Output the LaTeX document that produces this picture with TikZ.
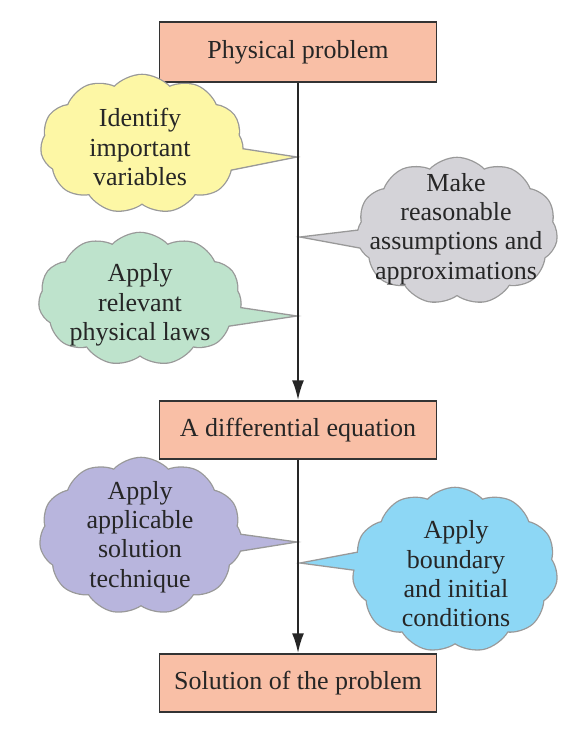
\documentclass[tikz,border=0pt]{standalone}
\usepackage{fontspec}
\setmainfont{Liberation Serif}
\usepackage{xcolor}
\usetikzlibrary{shapes.symbols,arrows.meta}
\definecolor{boxfill}{HTML}{F9BFA6}
\definecolor{yellowc}{HTML}{FDF7A5}
\definecolor{grayc}{HTML}{D4D3D8}
\definecolor{greenc}{HTML}{BEE3CC}
\definecolor{purplec}{HTML}{B8B5DD}
\definecolor{bluec}{HTML}{8DD7F5}
\tikzset{
  stepbox/.style={draw=black!80, fill=boxfill, line width=1.3pt, minimum width=277pt, minimum height=58pt},
  puff/.style={cloud, cloud puffs=11, cloud puff arc=95, draw=black!40, line width=2.6pt, inner sep=0pt},
  pufftop/.style={cloud, cloud puffs=11, cloud puff arc=95, draw=none, inner sep=0pt},
  wedge/.style={draw=black!40, line width=1.3pt, line join=miter}
}

\begin{document}
\begin{tikzpicture}[x=1pt, y=-1pt, every node/.style={font=\fontsize{26}{29.3}\selectfont, align=center, text=black!85}]
    \useasboundingbox (0,0) rectangle (575,733);

    % boxes
    \node[stepbox, minimum height=60pt] (phys) at (298,52) {Physical problem};
    \node[stepbox] (deq) at (298,430) {A differential equation};
    \node[stepbox] (sol) at (298,683) {Solution of the problem};

    % tips on the main line
    \coordinate (t1) at (297,157);
    \coordinate (t2) at (300,237);
    \coordinate (t3) at (297,316);
    \coordinate (t4) at (297,542);
    \coordinate (t5) at (300,563);

    % yellow cloud
    \node[puff, fill=yellowc, minimum width=202pt, minimum height=138pt] (ident) at (142,144) {};
    \filldraw[wedge, fill=yellowc] (212,144) -- (t1) -- (212,174) -- cycle;
    \node[pufftop, fill=yellowc, minimum width=202pt, minimum height=138pt] at (ident) {};
    \node (identtxt) at (140,147) {Identify\\important\\variables};

    % gray cloud
    \node[puff, fill=grayc, minimum width=200pt, minimum height=146pt] (assume) at (457,231) {};
    \filldraw[wedge, fill=grayc] (392,226) -- (t2) -- (392,254) -- cycle;
    \node[pufftop, fill=grayc, minimum width=200pt, minimum height=146pt] at (assume) {};
    \node (assumetxt) at (456,229) {Make\\reasonable\\assumptions and\\approximations};

    % green cloud
    \node[puff, fill=greenc, minimum width=202pt, minimum height=132pt] (laws) at (140,299) {};
    \filldraw[wedge, fill=greenc] (210,303) -- (t3) -- (210,329) -- cycle;
    \node[pufftop, fill=greenc, minimum width=202pt, minimum height=132pt] at (laws) {};
    \node (lawstxt) at (140,305) {Apply\\relevant\\physical laws};

    % purple cloud
    \node[puff, fill=purplec, minimum width=202pt, minimum height=156pt] (tech) at (141,536) {};
    \filldraw[wedge, fill=purplec] (210,530) -- (t4) -- (210,556) -- cycle;
    \node[pufftop, fill=purplec, minimum width=202pt, minimum height=156pt] at (tech) {};
    \node (techtxt) at (140,537) {Apply\\applicable\\solution\\technique};

    % blue cloud
    \node[puff, fill=bluec, minimum width=204pt, minimum height=164pt] (bound) at (455,570) {};
    \filldraw[wedge, fill=bluec] (390,546) -- (t5) -- (390,575) -- cycle;
    \node[pufftop, fill=bluec, minimum width=204pt, minimum height=164pt] at (bound) {};
    \node (boundtxt) at (456,574) {Apply\\boundary\\and initial\\conditions};

    % main arrows
    \draw[-{Latex[length=20pt,width=12pt]}, line width=2.4pt, black!85] (phys) -- (deq);
    \draw[-{Latex[length=20pt,width=12pt]}, line width=2.4pt, black!85] (deq) -- (sol);
\end{tikzpicture}
\end{document}
